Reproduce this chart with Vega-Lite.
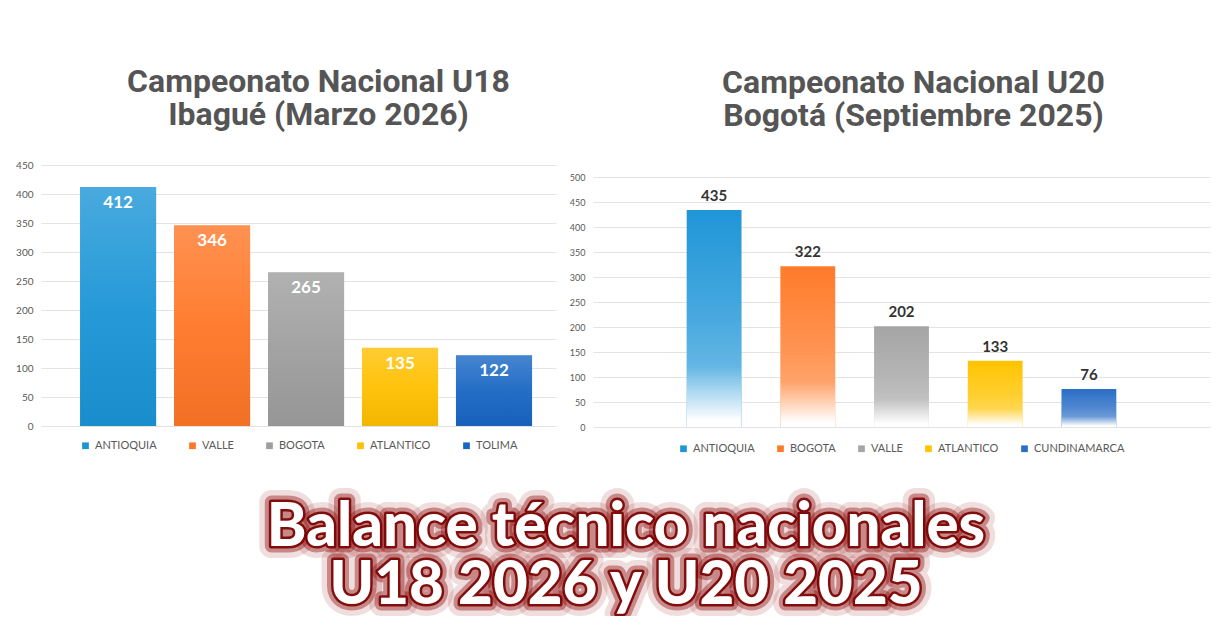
{
  "$schema": "https://vega.github.io/schema/vega-lite/v6.json",
  "background": "white",
  "padding": {"left": 15, "top": 66, "right": 0, "bottom": 0},
  "config": {
    "view": {"stroke": null},
    "axis": {"labelFont": "Lato", "labelColor": "#595959", "gridColor": "#E3E3E3", "domain": false, "ticks": false, "labelPadding": 8, "title": null},
    "legend": {"labelFont": "Lato", "labelColor": "#595959", "labelFontSize": 11, "symbolType": "square", "symbolSize": 45, "orient": "bottom", "direction": "horizontal", "title": null, "columnPadding": 30, "symbolStrokeWidth": 0, "layout": {"bottom": {"anchor": "middle"}}}
  },
  "vconcat": [
    {
      "hconcat": [
        {
          "title": {"text": ["Campeonato Nacional U18", "Ibagué (Marzo 2026)"], "font": "Roboto", "fontSize": 32, "fontWeight": "bold", "color": "#555555", "lineHeight": 33, "offset": 28, "dx": 20},
          "width": 515,
          "height": 261,
          "data": {"values": [
            {"dept": "ANTIOQUIA", "value": 412},
            {"dept": "VALLE", "value": 346},
            {"dept": "BOGOTA", "value": 265},
            {"dept": "ATLANTICO", "value": 135},
            {"dept": "TOLIMA", "value": 122}
          ]},
          "encoding": {
            "x": {"field": "dept", "type": "nominal", "sort": null, "axis": null, "scale": {"paddingInner": 0.19, "paddingOuter": 0.335, "align": 0.62}},
            "y": {"field": "value", "type": "quantitative", "scale": {"domain": [0, 450]}, "axis": {"values": [0, 50, 100, 150, 200, 250, 300, 350, 400, 450], "labelFontSize": 10}}
          },
          "layer": [
            {
              "mark": {"type": "bar"},
              "encoding": {
                "color": {"field": "dept", "type": "nominal", "sort": null,
                  "scale": {"domain": ["ANTIOQUIA", "VALLE", "BOGOTA", "ATLANTICO", "TOLIMA"], "range": ["#1B95D6", "#FF7626", "#9E9E9E", "#FFC000", "#1866C4"]},
                  "legend": {"offset": 14, "columnPadding": 30}}
              }
            },
            {
              "mark": {"type": "bar", "color": {"gradient": "linear", "x1": 0, "y1": 0, "x2": 0, "y2": 1, "stops": [{"offset": 0, "color": "rgba(255,255,255,0.2)"}, {"offset": 0.5, "color": "rgba(255,255,255,0.05)"}, {"offset": 1, "color": "rgba(0,0,0,0.05)"}]}}
            },
            {
              "mark": {"type": "text", "baseline": "top", "dy": 8, "color": "white", "font": "Lato", "fontWeight": "bold", "fontSize": 17},
              "encoding": {"text": {"field": "value", "type": "quantitative"}}
            }
          ]
        },
        {
          "title": {"text": ["Campeonato Nacional U20", "Bogotá (Septiembre 2025)"], "font": "Roboto", "fontSize": 32, "fontWeight": "bold", "color": "#555555", "lineHeight": 33, "offset": 32, "dx": 12},
          "width": 617,
          "height": 262,
          "data": {"values": [
            {"dept": "ANTIOQUIA", "value": 435},
            {"dept": "BOGOTA", "value": 322},
            {"dept": "VALLE", "value": 202},
            {"dept": "ATLANTICO", "value": 133},
            {"dept": "CUNDINAMARCA", "value": 76}
          ]},
          "encoding": {
            "x": {"field": "dept", "type": "nominal", "sort": null, "axis": null, "scale": {"paddingInner": 0.415, "paddingOuter": 1.05}},
            "y": {"field": "value", "type": "quantitative", "scale": {"domain": [0, 525]}, "axis": {"values": [0, 50, 100, 150, 200, 250, 300, 350, 400, 450, 500], "labelFontSize": 9}}
          },
          "layer": [
            {
              "mark": {"type": "bar"},
              "encoding": {
                "color": {"field": "dept", "type": "nominal", "sort": null,
                  "scale": {"domain": ["ANTIOQUIA", "BOGOTA", "VALLE", "ATLANTICO", "CUNDINAMARCA"], "range": ["#2096D8", "#FF7B2A", "#A5A5A5", "#FFC400", "#2A6EC6"]},
                  "legend": {"offset": 16, "columnPadding": 20}}
              }
            },
            {
              "mark": {"type": "bar", "color": {"gradient": "linear", "x1": 0, "y1": 0, "x2": 0, "y2": 1, "stops": [{"offset": 0, "color": "rgba(255,255,255,0)"}, {"offset": 0.5, "color": "rgba(255,255,255,0.18)"}, {"offset": 0.72, "color": "rgba(255,255,255,0.3)"}, {"offset": 0.97, "color": "rgba(255,255,255,1)"}, {"offset": 1, "color": "rgba(255,255,255,1)"}]}}
            },
            {
              "mark": {"type": "text", "baseline": "bottom", "dy": -6, "color": "#333333", "font": "Lato", "fontWeight": "bold", "fontSize": 15},
              "encoding": {"text": {"field": "value", "type": "quantitative"}}
            }
          ]
        }
      ],
      "spacing": 13,
      "resolve": {"scale": {"color": "independent", "y": "independent"}, "legend": {"color": "independent"}}
    },
    {
      "width": 1170,
      "height": 116,
      "data": {"values": [
        {"line": 1, "text": "Balance técnico nacionales"},
        {"line": 2, "text": "U18 2026 y U20 2025"}
      ]},
      "encoding": {
        "y": {"field": "line", "type": "ordinal", "axis": null, "scale": {"type": "point", "padding": 0.5}},
        "text": {"field": "text", "type": "nominal"}
      },
      "layer": [
        {"mark": {"type": "text", "font": "Lato", "fontWeight": 900, "fontSize": 60, "baseline": "middle", "align": "center", "stroke": "#9B1B1B", "strokeWidth": 24, "strokeOpacity": 0.15, "strokeJoin": "round", "fill": "#9B1B1B", "fillOpacity": 0.2}},
        {"mark": {"type": "text", "font": "Lato", "fontWeight": 900, "fontSize": 60, "baseline": "middle", "align": "center", "stroke": "#8B0A0A", "strokeWidth": 13, "strokeOpacity": 0.4, "strokeJoin": "round", "fill": "#8B0A0A"}},
        {"mark": {"type": "text", "font": "Lato", "fontWeight": 900, "fontSize": 60, "baseline": "middle", "align": "center", "stroke": "#7A0000", "strokeWidth": 5, "strokeOpacity": 0.9, "strokeJoin": "round", "fill": "#7A0000"}},
        {"mark": {"type": "text", "font": "Lato", "fontWeight": 900, "fontSize": 60, "baseline": "middle", "align": "center", "fill": "white"}}
      ]
    }
  ],
  "spacing": 44
}
